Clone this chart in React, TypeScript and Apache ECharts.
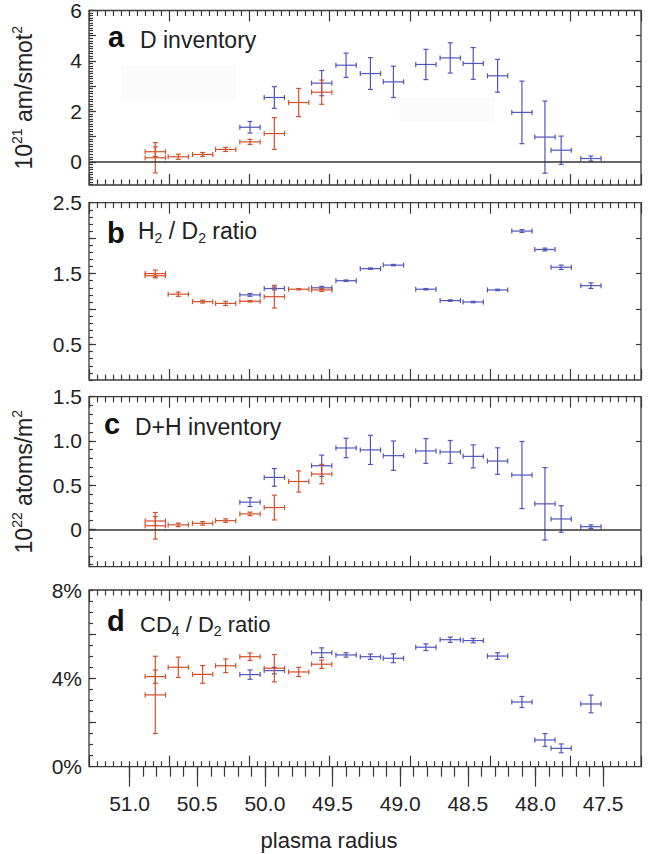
import React, { useEffect, useRef } from "react";
import * as echarts from "echarts";

// ---- data (plasma radius positions) ----
const redRadius = [50.81, 50.81, 50.64, 50.46, 50.29, 50.11, 49.93, 49.75, 49.58];
const blueRadius = [50.11, 49.93, 49.58, 49.4, 49.22, 49.05, 48.81, 48.63, 48.46, 48.28, 48.1, 47.93, 47.81, 47.59];
const radiusErr = 0.075;

// a: D inventory (10^21 atoms/m^2)
const dInvRed = [0.4, 0.16, 0.2, 0.29, 0.49, 0.79, 1.12, 2.35, 2.76];
const dInvRedErr = [0.19, 0.6, 0.1, 0.08, 0.08, 0.1, 0.63, 0.56, 0.48];
const dInvBlue = [1.37, 2.55, 3.12, 3.83, 3.5, 3.17, 3.86, 4.12, 3.9, 3.41, 1.96, 0.98, 0.46, 0.13];
const dInvBlueErr = [0.23, 0.43, 0.5, 0.48, 0.63, 0.62, 0.6, 0.6, 0.63, 0.65, 1.24, 1.43, 0.56, 0.1];

// b: H2/D2 ratio
const h2d2Red = [1.5, 1.47, 1.21, 1.105, 1.08, 1.11, 1.175, 1.28, 1.27];
const h2d2RedErr = [0.05, 0.03, 0.03, 0.02, 0.03, 0.01, 0.16, 0.01, 0.02];
const h2d2Blue = [1.2, 1.29, 1.3, 1.4, 1.57, 1.62, 1.28, 1.12, 1.1, 1.27, 2.1, 1.84, 1.59, 1.33];
const h2d2BlueErr = [0.02, 0.02, 0.02, 0.01, 0.01, 0.01, 0.01, 0.01, 0.01, 0.01, 0.02, 0.02, 0.03, 0.04];

// c: D+H inventory (10^22 atoms/m^2)
const dhInvRed = [0.094, 0.04, 0.05, 0.068, 0.098, 0.174, 0.246, 0.541, 0.625];
const dhInvRedErr = [0.05, 0.15, 0.02, 0.02, 0.02, 0.02, 0.14, 0.12, 0.11];
const dhInvBlue = [0.307, 0.587, 0.719, 0.92, 0.898, 0.833, 0.886, 0.875, 0.825, 0.772, 0.614, 0.288, 0.117, 0.03];
const dhInvBlueErr = [0.05, 0.1, 0.12, 0.11, 0.165, 0.166, 0.14, 0.13, 0.13, 0.15, 0.38, 0.41, 0.15, 0.02];

// d: CD4/D2 ratio (%)
const cd4Red = [4.08, 3.25, 4.5, 4.18, 4.57, 4.98, 4.46, 4.29, 4.64];
const cd4RedErr = [0.3, 1.75, 0.46, 0.4, 0.31, 0.17, 0.62, 0.21, 0.19];
const cd4Blue = [4.17, 4.35, 5.16, 5.06, 4.98, 4.91, 5.41, 5.75, 5.71, 5.01, 2.93, 1.21, 0.83, 2.84];
const cd4BlueErr = [0.21, 0.15, 0.22, 0.1, 0.12, 0.2, 0.15, 0.12, 0.1, 0.15, 0.25, 0.29, 0.2, 0.4];

// tick labels
const radiusTickLabels = [51.0, 50.5, 50.0, 49.5, 49.0, 48.5, 48.0, 47.5];
const dInvTickLabels = [0, 2, 4, 6];
const h2d2TickLabels = [0.5, 1.5, 2.5];
const dhInvTickLabels = [0, 0.5, 1.0, 1.5];
const cd4TickLabels = [0, 4, 8];

// ---- styling ----
const FONT = '"Liberation Sans", Arial, Helvetica, sans-serif';
const AXIS_COLOR = "#3a3a3a";
const TEXT_COLOR = "#222";
const RED = "#d4502c";
const BLUE = "#5454bd";
const R_MIN = 47.22;
const R_MAX = 51.3;
const GRID_LEFT = 89;
const GRID_RIGHT = 7;
const TICK_FONT = 21;

function range(a: number, b: number, step: number) {
  const out: number[] = [];
  const n = Math.round((b - a) / step);
  for (let i = 0; i <= n; i++) out.push(+(a + i * step).toFixed(4));
  return out;
}

function errorBarRenderer(color: string) {
  return (params: any, api: any) => {
    const x = api.value(0);
    const y = api.value(1);
    const e = api.value(2);
    const c = api.coord([x, y]);
    const l = api.coord([x + radiusErr, y]);
    const r = api.coord([x - radiusErr, y]);
    const t = api.coord([x, y + e]);
    const b = api.coord([x, y - e]);
    const cap = 2.5;
    const style = { stroke: color, lineWidth: 1.2 };
    const seg = (x1: number, y1: number, x2: number, y2: number) => ({
      type: "line",
      shape: { x1, y1, x2, y2 },
      style,
    });
    return {
      type: "group",
      children: [
        seg(l[0], c[1], r[0], c[1]),
        seg(l[0], c[1] - cap, l[0], c[1] + cap),
        seg(r[0], c[1] - cap, r[0], c[1] + cap),
        seg(c[0], t[1], c[0], b[1]),
        seg(c[0] - cap, t[1], c[0] + cap, t[1]),
        seg(c[0] - cap, b[1], c[0] + cap, b[1]),
      ],
    };
  };
}

const richName = {
  sup: { fontSize: 14, padding: [0, 0, 14, 0], fontFamily: FONT, color: TEXT_COLOR },
};

const panels = [
  {
    top: 10, height: 175, min: -0.92, max: 6,
    labels: dInvTickLabels, majors: range(0, 6, 1), minors: range(-0.9, 6, 0.1), right: range(1, 5, 1),
    fmt: (v: number) => String(v), zero: true,
    red: dInvRed, redErr: dInvRedErr, blue: dInvBlue, blueErr: dInvBlueErr,
    name: "10{sup|21} am/smot{sup|2}",
  },
  {
    top: 202.7, height: 177.3, min: 0, max: 2.5,
    labels: h2d2TickLabels, majors: range(0.5, 2, 0.5), minors: range(0, 2.5, 0.1), right: range(0.5, 2, 0.5),
    fmt: (v: number) => v.toFixed(1), zero: false,
    red: h2d2Red, redErr: h2d2RedErr, blue: h2d2Blue, blueErr: h2d2BlueErr,
    name: "",
  },
  {
    top: 396.7, height: 170, min: -0.423, max: 1.5,
    labels: dhInvTickLabels, majors: range(0, 1.5, 0.5), minors: range(-0.4, 1.5, 0.1), right: range(0.5, 1, 0.5),
    fmt: (v: number) => (v === 0 ? "0" : v.toFixed(1)), zero: true,
    red: dhInvRed, redErr: dhInvRedErr, blue: dhInvBlue, blueErr: dhInvBlueErr,
    name: "10{sup|22} atoms/m{sup|2}",
  },
  {
    top: 590, height: 176.7, min: 0, max: 8,
    labels: cd4TickLabels, majors: range(2, 6, 2), minors: range(0, 8, 0.5), right: range(2, 6, 2),
    fmt: (v: number) => v + "%", zero: false,
    red: cd4Red, redErr: cd4RedErr, blue: cd4Blue, blueErr: cd4BlueErr,
    name: "",
  },
];

function buildOption() {
  const grids: any[] = [];
  const xAxes: any[] = [];
  const yAxes: any[] = [];
  const series: any[] = [];
  const tickLine = { color: AXIS_COLOR, width: 1.2 };

  panels.forEach((p, i) => {
    grids.push({
      left: GRID_LEFT, right: GRID_RIGHT, top: p.top, height: p.height,
      show: true, borderColor: AXIS_COLOR, borderWidth: 1.3, backgroundColor: "transparent",
    });
    const last = i === panels.length - 1;
    const radIdx = xAxes.length;
    xAxes.push({
      type: "value", gridIndex: i, min: R_MIN, max: R_MAX, inverse: true, position: "bottom",
      axisLine: { show: false, onZero: false }, splitLine: { show: false },
      axisTick: last
        ? { show: true, inside: false, length: 20, customValues: radiusTickLabels, lineStyle: tickLine }
        : { show: false },
      axisLabel: last
        ? {
            show: true, customValues: radiusTickLabels, formatter: (v: number) => v.toFixed(1),
            margin: 26, fontSize: TICK_FONT, color: TEXT_COLOR, fontFamily: FONT,
          }
        : { show: false },
    });
    if (last) {
      xAxes.push({
        type: "value", gridIndex: i, min: R_MIN, max: R_MAX, inverse: true, position: "bottom",
        axisLine: { show: false, onZero: false }, splitLine: { show: false },
        axisTick: { show: true, inside: false, length: 10, customValues: range(47.5, 51.0, 0.1), lineStyle: tickLine },
        axisLabel: { show: false },
      });
    }
    ["top", "bottom"].forEach((pos) => {
      xAxes.push({
        type: "value", gridIndex: i, position: pos, min: 0, max: 68.8, interval: 10,
        axisLine: { show: false, onZero: false }, splitLine: { show: false }, minorSplitLine: { show: false },
        axisTick: { show: true, inside: true, length: 11, lineStyle: tickLine },
        minorTick: { show: true, splitNumber: 10, length: 5.5, lineStyle: tickLine },
        axisLabel: { show: false },
      });
    });

    const yIdx = yAxes.length;
    yAxes.push({
      type: "value", gridIndex: i, position: "left", min: p.min, max: p.max,
      axisLine: { show: false, onZero: false }, splitLine: { show: false },
      axisTick: { show: true, inside: true, length: 7, customValues: p.majors, lineStyle: tickLine },
      axisLabel: {
        show: true, customValues: p.labels, formatter: p.fmt, margin: 7,
        fontSize: TICK_FONT, color: TEXT_COLOR, fontFamily: FONT,
      },
      name: p.name, nameLocation: "middle", nameRotate: 90, nameGap: 51,
      nameTextStyle: { fontSize: 23, color: TEXT_COLOR, fontFamily: FONT, rich: richName },
    });
    yAxes.push({
      type: "value", gridIndex: i, position: "left", min: p.min, max: p.max,
      axisLine: { show: false, onZero: false }, splitLine: { show: false },
      axisTick: { show: true, inside: true, length: 4, customValues: p.minors, lineStyle: tickLine },
      axisLabel: { show: false },
    });
    yAxes.push({
      type: "value", gridIndex: i, position: "right", min: p.min, max: p.max,
      axisLine: { show: false, onZero: false }, splitLine: { show: false },
      axisTick: { show: true, inside: true, length: 5, customValues: p.right, lineStyle: tickLine },
      axisLabel: { show: false },
    });

    series.push({
      type: "custom", xAxisIndex: radIdx, yAxisIndex: yIdx, clip: false,
      renderItem: errorBarRenderer(BLUE),
      encode: { x: 0, y: 1 },
      data: blueRadius.map((r, k) => [r, p.blue[k], p.blueErr[k]]),
      markLine: p.zero
        ? {
            silent: true, symbol: "none", label: { show: false },
            lineStyle: { color: "#333", width: 1.5, type: "solid" },
            data: [{ yAxis: 0 }],
          }
        : undefined,
      z: 2,
    });
    series.push({
      type: "custom", xAxisIndex: radIdx, yAxisIndex: yIdx, clip: false,
      renderItem: errorBarRenderer(RED),
      encode: { x: 0, y: 1 },
      data: redRadius.map((r, k) => [r, p.red[k], p.redErr[k]]),
      z: 3,
    });
  });

  const sub = { fontSize: 14, padding: [14, 0, 0, 0], fontFamily: FONT, fill: TEXT_COLOR };
  const letter = (t: string, x: number, y: number) => ({
    type: "text", x, y, z: 10,
    style: { text: t, fontSize: 29, fontWeight: "bold", fontFamily: FONT, fill: "#111", align: "left", verticalAlign: "middle" },
  });
  const title = (t: string, x: number, y: number, size: number) => ({
    type: "text", x, y, z: 10,
    style: {
      text: t, fontSize: size, fontFamily: FONT, fill: TEXT_COLOR, align: "left", verticalAlign: "middle",
      rich: { s: { ...sub } },
    },
  });

  const graphic = [
    { type: "rect", shape: { x: 121, y: 65, width: 115, height: 36 }, style: { fill: "#fbfbfb" }, z: 0 },
    { type: "rect", shape: { x: 399, y: 97, width: 96, height: 25 }, style: { fill: "#fbfbfb" }, z: 0 },
    letter("a", 108, 37),
    title("D inventory", 140, 40, 23),
    letter("b", 107, 233),
    title("H{s|2} / D{s|2} ratio", 138, 231, 23),
    letter("c", 104, 424),
    title("D+H inventory", 135, 427, 23),
    letter("d", 107, 621),
    title("CD{s|4} / D{s|2} ratio", 140, 624, 22),
    {
      type: "text", x: 329, y: 840, z: 10,
      style: { text: "plasma radius", fontSize: 22, fontFamily: FONT, fill: TEXT_COLOR, align: "center", verticalAlign: "middle" },
    },
  ];

  return {
    animation: false,
    backgroundColor: "#ffffff",
    grid: grids,
    xAxis: xAxes,
    yAxis: yAxes,
    series,
    graphic,
  };
}

export default function App() {
  const ref = useRef<HTMLDivElement>(null);
  useEffect(() => {
    if (!ref.current) return;
    const chart = echarts.init(ref.current, undefined, { renderer: "svg" });
    chart.setOption(buildOption() as any);
    return () => chart.dispose();
  }, []);
  return <div ref={ref} style={{ width: 648, height: 854, position: "absolute", left: 0, top: 0 }} />;
}
